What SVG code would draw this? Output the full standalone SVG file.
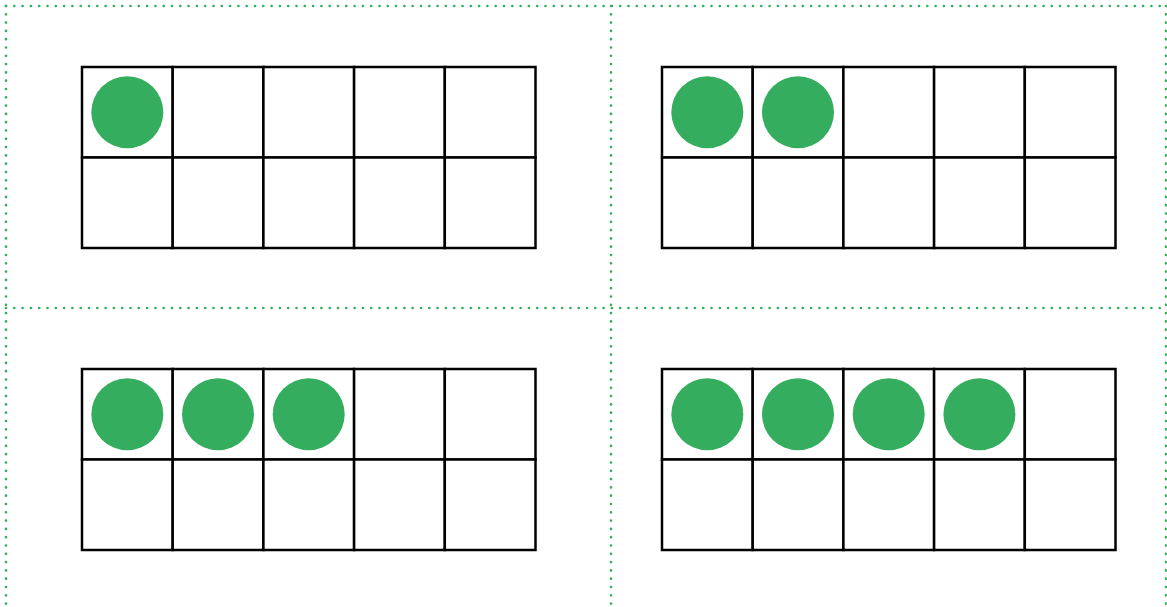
<svg xmlns="http://www.w3.org/2000/svg" width="1167" height="607" viewBox="0 0 1167 607">
<defs>
<style>
.dot{stroke:#34ad5e;stroke-width:2.7;stroke-dasharray:0 8.3;stroke-linecap:round;fill:none}
.cell{fill:#fff;stroke:#000;stroke-width:2.5}
.c{fill:#34ad5e}
</style>
<g id="frame">
<rect class="cell" x="0" y="0" width="90.7" height="90.5"/>
<rect class="cell" x="90.7" y="0" width="90.7" height="90.5"/>
<rect class="cell" x="181.4" y="0" width="90.7" height="90.5"/>
<rect class="cell" x="272.1" y="0" width="90.7" height="90.5"/>
<rect class="cell" x="362.8" y="0" width="90.7" height="90.5"/>
<rect class="cell" x="0" y="90.5" width="90.7" height="90.5"/>
<rect class="cell" x="90.7" y="90.5" width="90.7" height="90.5"/>
<rect class="cell" x="181.4" y="90.5" width="90.7" height="90.5"/>
<rect class="cell" x="272.1" y="90.5" width="90.7" height="90.5"/>
<rect class="cell" x="362.8" y="90.5" width="90.7" height="90.5"/>
</g>
</defs>
<rect width="1167" height="607" fill="#fff"/>
<g id="dividers">
<line class="dot" x1="6" y1="6" x2="1166" y2="6"/>
<line class="dot" x1="6" y1="6" x2="6" y2="607"/>
<line class="dot" x1="611" y1="6" x2="611" y2="607"/>
<line class="dot" x1="1166" y1="6" x2="1166" y2="607"/>
<line class="dot" x1="6" y1="308" x2="1166" y2="308"/>
</g>
<g id="frame1" transform="translate(82,67)">
<use href="#frame"/>
<circle class="c" cx="45.3" cy="45.2" r="36"/>
</g>
<g id="frame2" transform="translate(662,67)">
<use href="#frame"/>
<circle class="c" cx="45.3" cy="45.2" r="36"/>
<circle class="c" cx="136" cy="45.2" r="36"/>
</g>
<g id="frame3" transform="translate(82,369)">
<use href="#frame"/>
<circle class="c" cx="45.3" cy="45.2" r="36"/>
<circle class="c" cx="136" cy="45.2" r="36"/>
<circle class="c" cx="226.7" cy="45.2" r="36"/>
</g>
<g id="frame4" transform="translate(662,369)">
<use href="#frame"/>
<circle class="c" cx="45.3" cy="45.2" r="36"/>
<circle class="c" cx="136" cy="45.2" r="36"/>
<circle class="c" cx="226.7" cy="45.2" r="36"/>
<circle class="c" cx="317.4" cy="45.2" r="36"/>
</g>
</svg>
